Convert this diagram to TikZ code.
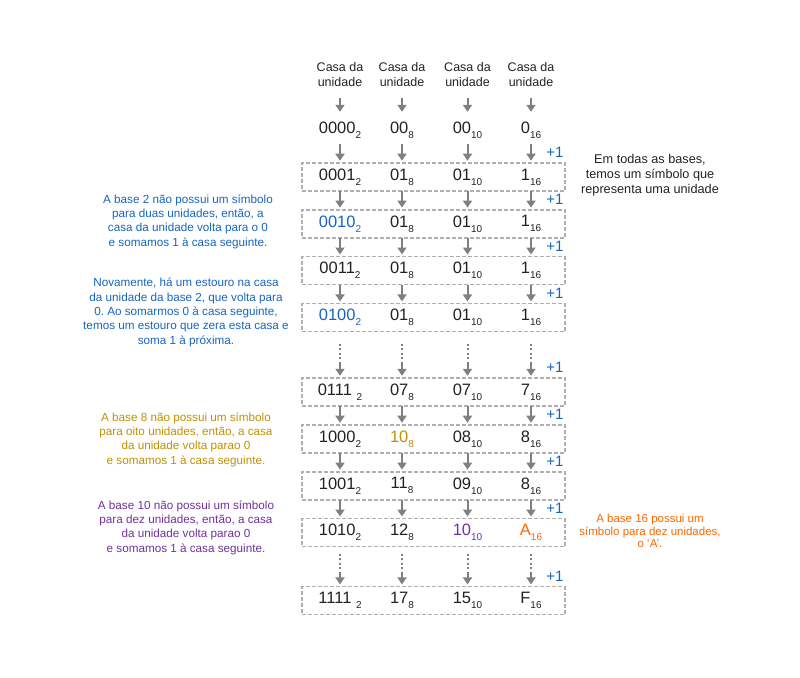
\documentclass[tikz,border=0pt]{standalone}
\usepackage{fontspec}
\setmainfont{Liberation Sans}
\frenchspacing
\usetikzlibrary{arrows.meta,calc,positioning}
\definecolor{textColor}{RGB}{34,34,34}
\definecolor{arrowColor}{RGB}{128,128,128}
\definecolor{boxColor}{RGB}{175,175,175}
\definecolor{blueColor}{RGB}{21,101,192}
\definecolor{goldColor}{RGB}{191,144,0}
\definecolor{purpleColor}{RGB}{112,48,160}
\definecolor{orangeColor}{RGB}{255,102,0}
\newcommand{\basenum}[2]{{\fontsize{16.5}{18}\selectfont #1}\raisebox{-5pt}{\fontsize{10}{12}\selectfont #2}}
\tikzset{cell/.style={inner sep=0pt, minimum height=28pt, text=textColor}}
\tikzset{header/.style={align=center, inner sep=0pt, text=textColor, font=\fontsize{12.5}{15}\selectfont}}
\tikzset{rowbox/.style={draw=boxColor, line width=1.5pt, dash pattern=on 4pt off 2pt, minimum width=263pt, minimum height=28pt, inner sep=0pt}}
\tikzset{note/.style={align=center, inner sep=0pt, font=\fontsize{11.7}{14.3}\selectfont}}
\tikzset{plusone/.style={inner sep=0pt, text=blueColor, font=\fontsize{15}{15}\selectfont}}
\tikzstyle{arrow} = [-{Triangle[width=9pt,length=7pt]}, draw=arrowColor, line width=2pt, shorten >=2pt]
\tikzstyle{headarrow} = [arrow, shorten <=11.5pt, shorten >=4pt]
\tikzstyle{dotarrow} = [arrow, dash pattern=on 2pt off 2.5pt on 2pt off 2.5pt on 2pt off 2.5pt on 2pt off 2.5pt on 60pt off 0pt]

\begin{document}
\begin{tikzpicture}[x=1pt, y=-1pt, node distance=18.5pt]
	\useasboundingbox (0,0) rectangle (800,677);
	% Nodes
	\node (binhead) [header] at (340,74.5) {Casa da\\ unidade};
	\node (octhead) [header] at (402,74.5) {Casa da\\ unidade};
	\node (dechead) [header] at (467.5,74.5) {Casa da\\ unidade};
	\node (hexhead) [header] at (531,74.5) {Casa da\\ unidade};

	\node (bin0) [cell] at (340,130) {\basenum{0000}{2}};
	\node (bin1) [cell, below=of bin0] {\basenum{0001}{2}};
	\node (bin2) [cell, text=blueColor, below=of bin1] {\basenum{0010}{2}};
	\node (bin3) [cell, below=of bin2] {\basenum{0011}{2}};
	\node (bin4) [cell, text=blueColor, below=of bin3] {\basenum{0100}{2}};
	\node (bin5) [cell, below=46pt of bin4] {\basenum{0111\ }{2}};
	\node (bin6) [cell, below=of bin5] {\basenum{1000}{2}};
	\node (bin7) [cell, below=of bin6] {\basenum{1001}{2}};
	\node (bin8) [cell, below=of bin7] {\basenum{1010}{2}};
	\node (bin9) [cell, below=39.5pt of bin8] {\basenum{1111\ }{2}};

	\node (oct0) [cell] at (402,130) {\basenum{00}{8}};
	\node (oct1) [cell, below=of oct0] {\basenum{01}{8}};
	\node (oct2) [cell, below=of oct1] {\basenum{01}{8}};
	\node (oct3) [cell, below=of oct2] {\basenum{01}{8}};
	\node (oct4) [cell, below=of oct3] {\basenum{01}{8}};
	\node (oct5) [cell, below=46pt of oct4] {\basenum{07}{8}};
	\node (oct6) [cell, text=goldColor, below=of oct5] {\basenum{10}{8}};
	\node (oct7) [cell, below=of oct6] {\basenum{11}{8}};
	\node (oct8) [cell, below=of oct7] {\basenum{12}{8}};
	\node (oct9) [cell, below=39.5pt of oct8] {\basenum{17}{8}};

	\node (dec0) [cell] at (467.5,130) {\basenum{00}{10}};
	\node (dec1) [cell, below=of dec0] {\basenum{01}{10}};
	\node (dec2) [cell, below=of dec1] {\basenum{01}{10}};
	\node (dec3) [cell, below=of dec2] {\basenum{01}{10}};
	\node (dec4) [cell, below=of dec3] {\basenum{01}{10}};
	\node (dec5) [cell, below=46pt of dec4] {\basenum{07}{10}};
	\node (dec6) [cell, below=of dec5] {\basenum{08}{10}};
	\node (dec7) [cell, below=of dec6] {\basenum{09}{10}};
	\node (dec8) [cell, text=purpleColor, below=of dec7] {\basenum{10}{10}};
	\node (dec9) [cell, below=39.5pt of dec8] {\basenum{15}{10}};

	\node (hex0) [cell] at (531,130) {\basenum{0}{16}};
	\node (hex1) [cell, below=of hex0] {\basenum{1}{16}};
	\node (hex2) [cell, below=of hex1] {\basenum{1}{16}};
	\node (hex3) [cell, below=of hex2] {\basenum{1}{16}};
	\node (hex4) [cell, below=of hex3] {\basenum{1}{16}};
	\node (hex5) [cell, below=46pt of hex4] {\basenum{7}{16}};
	\node (hex6) [cell, below=of hex5] {\basenum{8}{16}};
	\node (hex7) [cell, below=of hex6] {\basenum{8}{16}};
	\node (hex8) [cell, text=orangeColor, below=of hex7] {\basenum{A}{16}};
	\node (hex9) [cell, below=39.5pt of hex8] {\basenum{F}{16}};

	% Row frames
	\coordinate (boxaxis) at (433.5,0);
	\node (row1) [rowbox] at (bin1 -| boxaxis) {};
	\node (row2) [rowbox] at (bin2 -| boxaxis) {};
	\node (row3) [rowbox] at (bin3 -| boxaxis) {};
	\node (row4) [rowbox] at (bin4 -| boxaxis) {};
	\node (row5) [rowbox] at (bin5 -| boxaxis) {};
	\node (row6) [rowbox] at (bin6 -| boxaxis) {};
	\node (row7) [rowbox] at (bin7 -| boxaxis) {};
	\node (row8) [rowbox] at (bin8 -| boxaxis) {};
	\node (row9) [rowbox] at (bin9 -| boxaxis) {};

	% Increments
	\node (inc1) [plusone] at ([xshift=24pt,yshift=10pt]hex1.north) {+1};
	\node (inc2) [plusone] at ([xshift=24pt,yshift=10pt]hex2.north) {+1};
	\node (inc3) [plusone] at ([xshift=24pt,yshift=10pt]hex3.north) {+1};
	\node (inc4) [plusone] at ([xshift=24pt,yshift=10pt]hex4.north) {+1};
	\node (inc5) [plusone] at ([xshift=24pt,yshift=10pt]hex5.north) {+1};
	\node (inc6) [plusone] at ([xshift=24pt,yshift=10pt]hex6.north) {+1};
	\node (inc7) [plusone] at ([xshift=24pt,yshift=10pt]hex7.north) {+1};
	\node (inc8) [plusone] at ([xshift=24pt,yshift=10pt]hex8.north) {+1};
	\node (inc9) [plusone] at ([xshift=24pt,yshift=10pt]hex9.north) {+1};

	% Notes
	\node (binnote) [note, text=blueColor] at (188,221.5) {A base 2 não possui um símbolo\\ para duas unidades, então, a\\ casa da unidade volta para o 0\\ e somamos 1 à casa seguinte.};
	\node (overflownote) [note, text=blueColor] at (186,312.5) {Novamente, há um estouro na casa\\ da unidade da base 2, que volta para\\ 0. Ao somarmos 0 à casa seguinte,\\ temos um estouro que zera esta casa e\\ soma 1 à próxima.};
	\node (octnote) [note, text=goldColor] at (186,439.5) {A base 8 não possui um símbolo\\ para oito unidades, então, a casa\\ da unidade volta parao 0\\ e somamos 1 à casa seguinte.};
	\node (decnote) [note, text=purpleColor] at (186,527.5) {A base 10 não possui um símbolo\\ para dez unidades, então, a casa\\ da unidade volta parao 0\\ e somamos 1 à casa seguinte.};
	\node (unitnote) [note, text=textColor, font=\fontsize{12.7}{15}\selectfont] at (650,175.5) {Em todas as bases,\\ temos um símbolo que\\ representa uma unidade};
	\node (hexnote) [note, text=orangeColor, font=\fontsize{11.5}{12.5}\selectfont] at (650,531) {A base 16 possui um\\ símbolo para dez unidades,\\ o ‘A’.};

	% Connectors
	\draw [headarrow] (binhead) -- (bin0);
	\draw [headarrow] (octhead) -- (oct0);
	\draw [headarrow] (dechead) -- (dec0);
	\draw [headarrow] (hexhead) -- (hex0);

	\draw [arrow] (bin0) -- (bin1);
	\draw [arrow] (bin1) -- (bin2);
	\draw [arrow] (bin2) -- (bin3);
	\draw [arrow] (bin3) -- (bin4);
	\draw [dotarrow, shorten <=12pt] (bin4) -- (bin5);
	\draw [arrow] (bin5) -- (bin6);
	\draw [arrow] (bin6) -- (bin7);
	\draw [arrow] (bin7) -- (bin8);
	\draw [dotarrow, shorten <=7pt] (bin8) -- (bin9);

	\draw [arrow] (oct0) -- (oct1);
	\draw [arrow] (oct1) -- (oct2);
	\draw [arrow] (oct2) -- (oct3);
	\draw [arrow] (oct3) -- (oct4);
	\draw [dotarrow, shorten <=12pt] (oct4) -- (oct5);
	\draw [arrow] (oct5) -- (oct6);
	\draw [arrow] (oct6) -- (oct7);
	\draw [arrow] (oct7) -- (oct8);
	\draw [dotarrow, shorten <=7pt] (oct8) -- (oct9);

	\draw [arrow] (dec0) -- (dec1);
	\draw [arrow] (dec1) -- (dec2);
	\draw [arrow] (dec2) -- (dec3);
	\draw [arrow] (dec3) -- (dec4);
	\draw [dotarrow, shorten <=12pt] (dec4) -- (dec5);
	\draw [arrow] (dec5) -- (dec6);
	\draw [arrow] (dec6) -- (dec7);
	\draw [arrow] (dec7) -- (dec8);
	\draw [dotarrow, shorten <=7pt] (dec8) -- (dec9);

	\draw [arrow] (hex0) -- (hex1);
	\draw [arrow] (hex1) -- (hex2);
	\draw [arrow] (hex2) -- (hex3);
	\draw [arrow] (hex3) -- (hex4);
	\draw [dotarrow, shorten <=12pt] (hex4) -- (hex5);
	\draw [arrow] (hex5) -- (hex6);
	\draw [arrow] (hex6) -- (hex7);
	\draw [arrow] (hex7) -- (hex8);
	\draw [dotarrow, shorten <=7pt] (hex8) -- (hex9);

\end{tikzpicture}
\end{document}
